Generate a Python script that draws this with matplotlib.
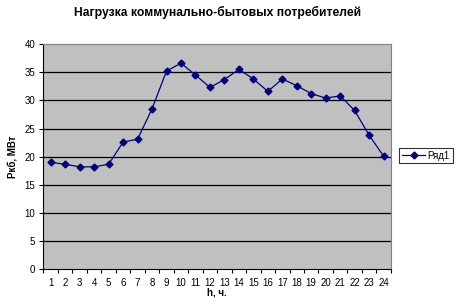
import matplotlib.pyplot as plt
import numpy as np

plt.rcParams['font.family'] = ['Liberation Sans', 'DejaVu Sans']

hours = list(range(1, 25))
load = [19.0, 18.65, 18.2, 18.2, 18.65, 22.6, 23.1, 28.5, 35.2, 36.6, 34.5, 32.3,
        33.7, 35.5, 33.8, 31.6, 33.8, 32.6, 31.2, 30.4, 30.8, 28.2, 23.8, 20.1]
yticks = [0, 5, 10, 15, 20, 25, 30, 35, 40]

fig = plt.figure(figsize=(4.55, 3.08), dpi=100)
ax = fig.add_axes([0.0956, 0.1256, 0.7634, 0.7314])
ax.set_facecolor('#c0c0c0')

for v in yticks[1:-1]:
    ax.axhline(v, color='black', lw=0.9, zorder=1)

ax.plot(hours, load, color='#000080', lw=0.9, marker='D', ms=3.5,
        label='Ряд1', zorder=3)

ax.set_xlim(0.5, 24.5)
ax.set_ylim(0, 40)
ax.set_yticks(yticks)
ax.set_xticks(hours)
ax.set_xticks(np.arange(0.5, 25, 1), minor=True)
ax.tick_params(axis='x', which='major', length=0, labelsize=7, pad=6)
ax.tick_params(axis='x', which='minor', length=3, direction='out', width=0.8)
ax.tick_params(axis='y', length=3, direction='out', labelsize=7, width=0.8, pad=3)

for s in ['top', 'right']:
    ax.spines[s].set_color('#808080')
    ax.spines[s].set_linewidth(0.8)
for s in ['left', 'bottom']:
    ax.spines[s].set_color('black')
    ax.spines[s].set_linewidth(0.8)

ax.set_title('Нагрузка коммунально-бытовых потребителей', fontsize=8.7,
             fontweight='bold', pad=20)
ax.set_xlabel('h, ч.', fontsize=7, fontweight='bold', labelpad=0)
ax.set_ylabel('Ркб, МВт', fontsize=7, fontweight='bold', labelpad=4)

leg = ax.legend(loc='center left', bbox_to_anchor=(1.024, 0.505), fontsize=7,
                frameon=True, fancybox=False, edgecolor='black',
                handlelength=2.4, borderpad=0.3, handletextpad=0.2,
                borderaxespad=0)
leg.get_frame().set_linewidth(0.8)

fig.savefig('out.png', dpi=100)
